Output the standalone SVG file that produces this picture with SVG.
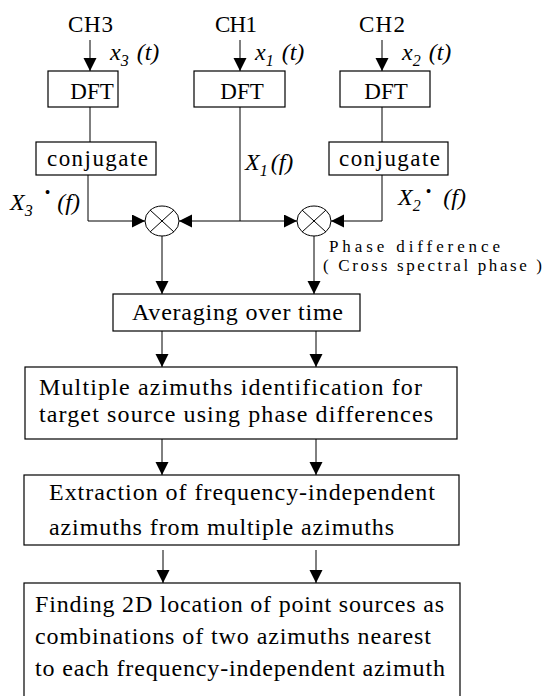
<svg xmlns="http://www.w3.org/2000/svg" width="545" height="696" viewBox="0 0 545 696" font-family="'Liberation Serif', serif">
  <style>
    text { font-family: "Liberation Serif", serif; fill: #000; }
    .box { fill: #fff; stroke: #000; stroke-width: 1.2; }
    .ch { font-family: "Liberation Serif", serif; font-size: 23px; }
    .lbl { font-family: "Liberation Serif", serif; font-size: 23px; }
    .mid { text-anchor: middle; }
    .body { font-family: "Liberation Serif", serif; font-size: 24px; }
    .note { font-family: "Liberation Serif", serif; font-size: 17px; }
    .math { font-family: "Liberation Serif", serif; font-size: 24px; font-style: italic; }
    .sub { font-size: 16px; }
    .dot { font-size: 16px; font-style: normal; }
    .wire { fill: none; stroke: #000; stroke-width: 1; }
    .arr { marker-end: url(#ah); }
    .mix { fill: #fff; stroke: #000; stroke-width: 1; }
  </style>
  <defs>
    <marker id="ah" markerUnits="userSpaceOnUse" markerWidth="14" markerHeight="14" refX="13" refY="6.5" orient="auto">
      <path d="M0,0 L13,6.5 L0,13 Z" fill="#000"/>
    </marker>
  </defs>

  <rect x="0" y="0" width="545" height="696" fill="#fff"/>

  <!-- connectors -->
  <g id="connectors">
    <path class="wire arr" d="M90,40 V71"/>
    <path class="wire arr" d="M240,40 V71"/>
    <path class="wire arr" d="M382,40 V71"/>
    <path class="wire" d="M90,107 V142"/>
    <path class="wire" d="M382,107 V142"/>
    <path class="wire" d="M240,107 V221"/>
    <path class="wire arr" d="M88,175 V221 H145"/>
    <path class="wire arr" d="M382,175 V221 H331"/>
    <path class="wire arr" d="M240,221 H179"/>
    <path class="wire arr" d="M240,221 H297"/>
    <path class="wire arr" d="M162,236 V294"/>
    <path class="wire arr" d="M314,236 V294"/>
    <path class="wire arr" d="M162,331 V367"/>
    <path class="wire arr" d="M316,331 V367"/>
    <path class="wire arr" d="M162,439 V475"/>
    <path class="wire arr" d="M316,439 V475"/>
    <path class="wire arr" d="M163,550 V583"/>
    <path class="wire arr" d="M316,550 V583"/>
  </g>

  <!-- channel inputs -->
  <g id="in-ch3">
    <text class="ch" x="68" y="32" textLength="45" lengthAdjust="spacing">CH3</text>
    <text class="math" x="110" y="60">x<tspan class="sub" dy="6">3</tspan><tspan dx="8" dy="-6">(t)</tspan></text>
  </g>
  <g id="in-ch1">
    <text class="ch" x="215" y="32" textLength="42" lengthAdjust="spacing">CH1</text>
    <text class="math" x="255" y="60">x<tspan class="sub" dy="6">1</tspan><tspan dx="8" dy="-6">(t)</tspan></text>
  </g>
  <g id="in-ch2">
    <text class="ch" x="359" y="32" textLength="46" lengthAdjust="spacing">CH2</text>
    <text class="math" x="402" y="60">x<tspan class="sub" dy="6">2</tspan><tspan dx="8" dy="-6">(t)</tspan></text>
  </g>

  <!-- DFT blocks -->
  <g id="dft-ch3">
    <rect class="box" x="48" y="71" width="70" height="36"/>
    <text class="lbl mid" x="92" y="99">DFT</text>
  </g>
  <g id="dft-ch1">
    <rect class="box" x="194" y="71" width="91" height="36"/>
    <text class="lbl mid" x="242" y="99">DFT</text>
  </g>
  <g id="dft-ch2">
    <rect class="box" x="340" y="71" width="90" height="36"/>
    <text class="lbl mid" x="386" y="99">DFT</text>
  </g>

  <!-- conjugate blocks -->
  <g id="conj-ch3">
    <rect class="box" x="36" y="142" width="120" height="33"/>
    <text class="lbl" x="47" y="166" textLength="101" lengthAdjust="spacing">conjugate</text>
  </g>
  <g id="conj-ch2">
    <rect class="box" x="329" y="142" width="119" height="33"/>
    <text class="lbl" x="339" y="166" textLength="101" lengthAdjust="spacing">conjugate</text>
  </g>

  <!-- spectrum labels -->
  <g id="label-x3">
    <text class="math" x="10" y="210">X<tspan class="sub" dy="6">3</tspan><tspan class="dot" dx="12" dy="-18">•</tspan><tspan dx="7" dy="12">(f)</tspan></text>
  </g>
  <g id="label-x1">
    <text class="math" x="245" y="170">X<tspan class="sub" dy="6">1</tspan><tspan dx="3" dy="-6">(f)</tspan></text>
  </g>
  <g id="label-x2">
    <text class="math" x="398" y="205">X<tspan class="sub" dy="6">2</tspan><tspan class="dot" dx="5" dy="-14">•</tspan><tspan dx="12" dy="8">(f)</tspan></text>
  </g>

  <!-- multipliers -->
  <g id="mult-31">
    <ellipse class="mix" cx="162" cy="221" rx="17" ry="15"/>
    <path class="wire" d="M150,232 L174,210 M150,210 L174,232"/>
  </g>
  <g id="mult-21">
    <ellipse class="mix" cx="314" cy="221" rx="17" ry="15"/>
    <path class="wire" d="M302,232 L326,210 M302,210 L326,232"/>
  </g>

  <g id="label-phase">
    <text class="note" x="329" y="252" textLength="171" lengthAdjust="spacing">Phase difference</text>
    <text class="note" x="323" y="271" textLength="219" lengthAdjust="spacing">( Cross spectral phase )</text>
  </g>

  <!-- processing chain -->
  <g id="averaging">
    <rect class="box" x="113" y="294" width="247" height="37"/>
    <text class="body" x="132" y="320" textLength="211" lengthAdjust="spacing">Averaging over time</text>
  </g>
  <g id="multi-azimuth">
    <rect class="box" x="25" y="367" width="432" height="72"/>
    <text class="body" x="39" y="395" textLength="383" lengthAdjust="spacing">Multiple azimuths identification for</text>
    <text class="body" x="39" y="422" textLength="394" lengthAdjust="spacing">target source using phase differences</text>
  </g>
  <g id="extraction">
    <rect class="box" x="24" y="475" width="435" height="70"/>
    <text class="body" x="49" y="500" textLength="386" lengthAdjust="spacing">Extraction of frequency-independent</text>
    <text class="body" x="49" y="535" textLength="345" lengthAdjust="spacing">azimuths from multiple azimuths</text>
  </g>
  <g id="localization">
    <rect class="box" x="24" y="583" width="436" height="125"/>
    <text class="body" x="35" y="612" textLength="409" lengthAdjust="spacing">Finding 2D location of point sources as</text>
    <text class="body" x="35" y="644" textLength="396" lengthAdjust="spacing">combinations of two azimuths nearest</text>
    <text class="body" x="35" y="676" textLength="410" lengthAdjust="spacing">to each frequency-independent azimuth</text>
  </g>
</svg>
